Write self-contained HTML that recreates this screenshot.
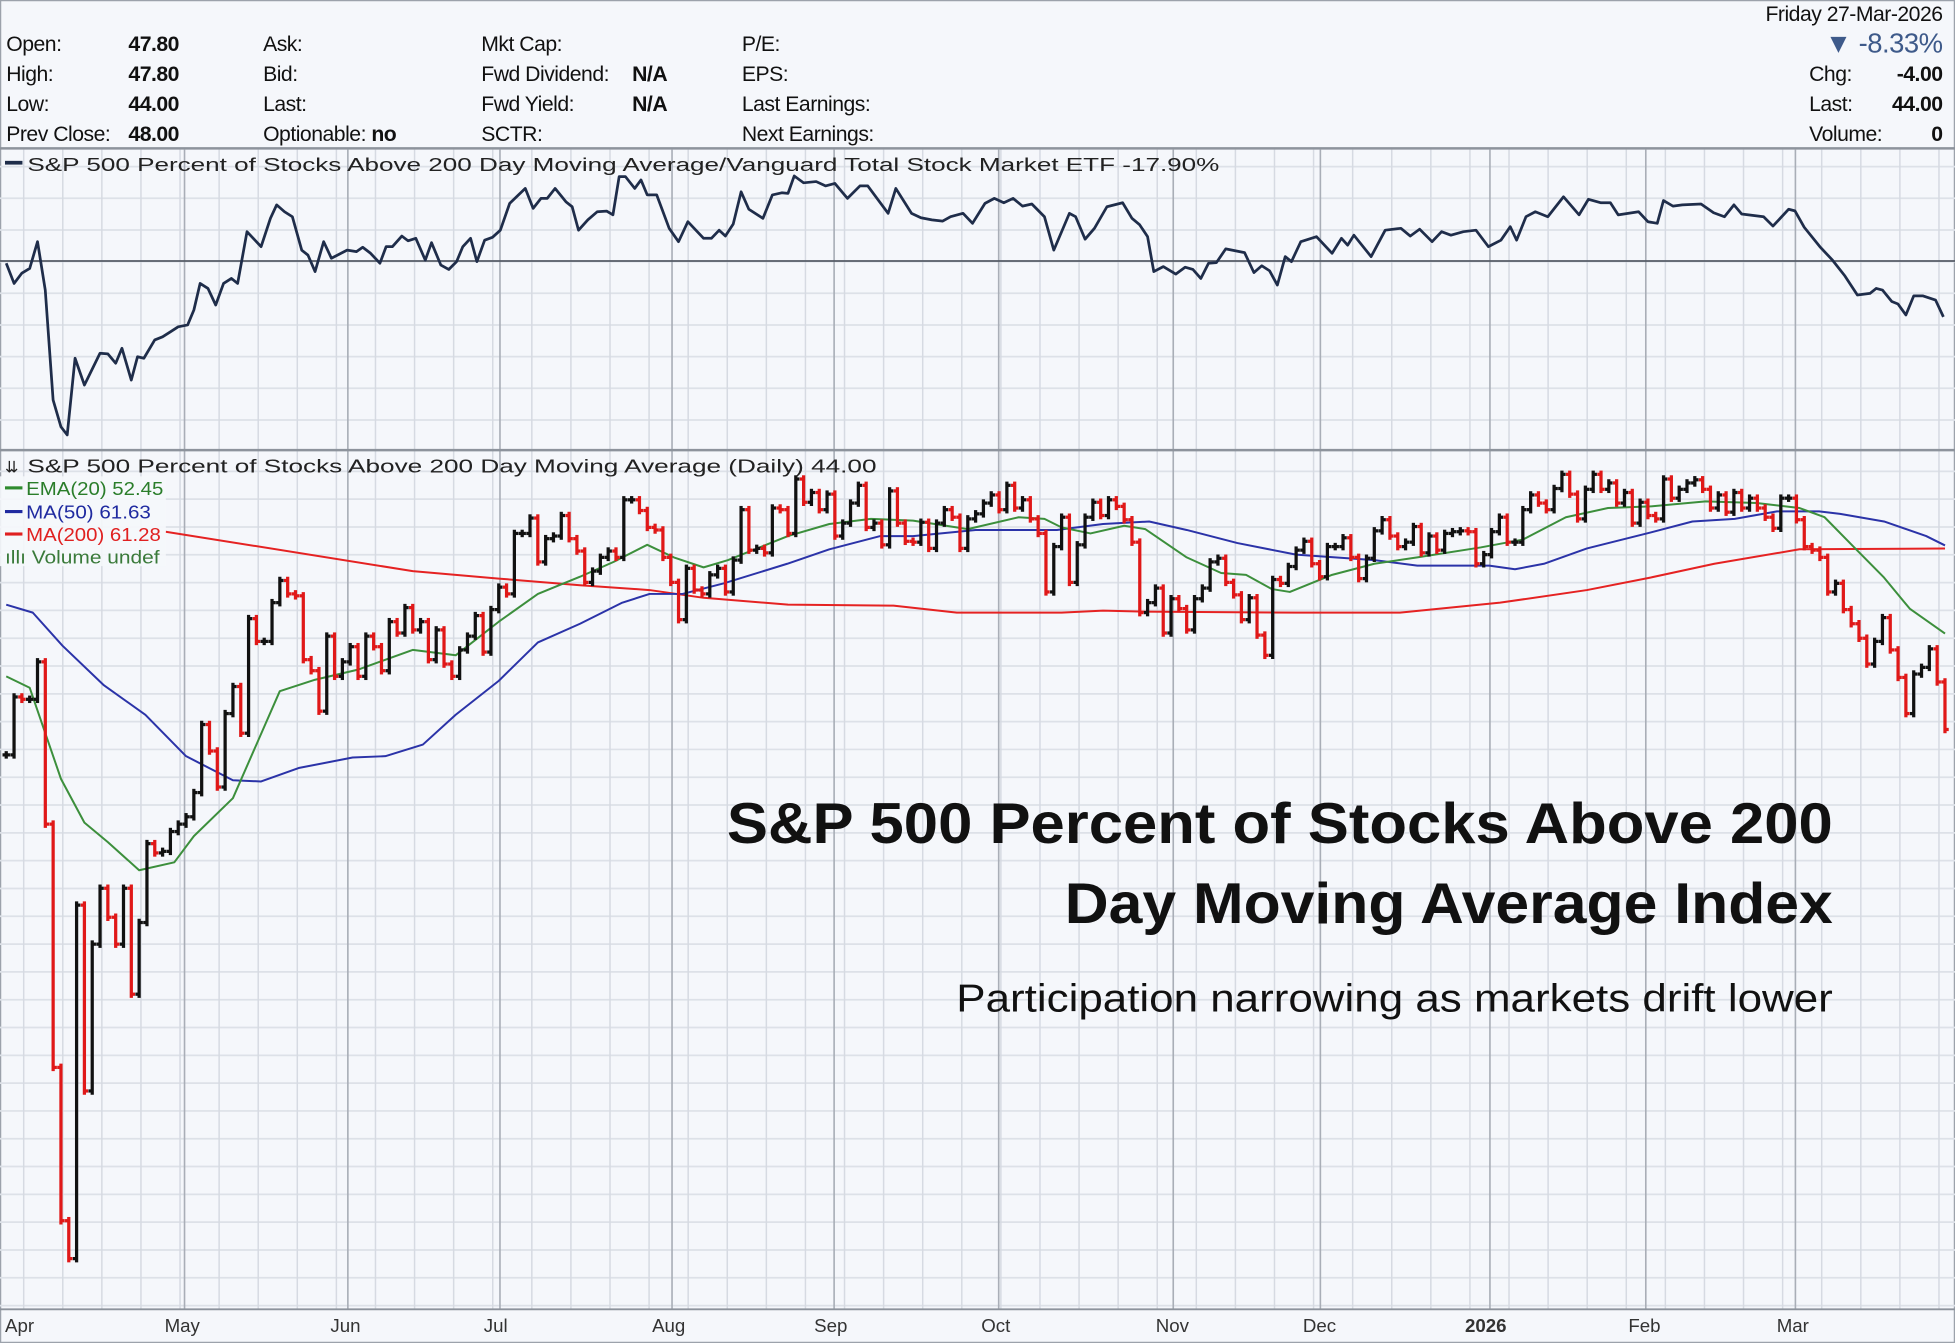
<!DOCTYPE html>
<html><head><meta charset="utf-8">
<style>
html,body{margin:0;padding:0;background:#f5f7fb;}
svg{display:block;}
.hd{font-family:"Liberation Sans",Arial,sans-serif;font-size:17px;fill:#111;letter-spacing:-0.4px;}
.hb{font-weight:bold;}
.mono{font-family:"Liberation Sans",Arial,sans-serif;font-size:15px;fill:#222;}
.ax{font-family:"Liberation Sans",Arial,sans-serif;font-size:15px;fill:#333;}
</style></head>
<body>
<svg id="chart" width="1955" height="1343" viewBox="0 0 1568 1077" preserveAspectRatio="none" xmlns="http://www.w3.org/2000/svg">
<rect x="0" y="0" width="1568" height="1077" fill="#f5f7fb"/>
<rect x="0.5" y="0.5" width="1567" height="1076" fill="none" stroke="#9ca2ab"/>
<g>
<text class="hd" x="5" y="41">Open:</text><text class="hd hb" x="103" y="41">47.80</text>
<text class="hd" x="5" y="65">High:</text><text class="hd hb" x="103" y="65">47.80</text>
<text class="hd" x="5" y="89">Low:</text><text class="hd hb" x="103" y="89">44.00</text>
<text class="hd" x="5" y="113">Prev Close:</text><text class="hd hb" x="103" y="113">48.00</text>
<text class="hd" x="211" y="41">Ask:</text>
<text class="hd" x="211" y="65">Bid:</text>
<text class="hd" x="211" y="89">Last:</text>
<text class="hd" x="211" y="113">Optionable: <tspan class="hb">no</tspan></text>
<text class="hd" x="386" y="41">Mkt Cap:</text>
<text class="hd" x="386" y="65">Fwd Dividend:</text><text class="hd hb" x="507" y="65">N/A</text>
<text class="hd" x="386" y="89">Fwd Yield:</text><text class="hd hb" x="507" y="89">N/A</text>
<text class="hd" x="386" y="113">SCTR:</text>
<text class="hd" x="595" y="41">P/E:</text>
<text class="hd" x="595" y="65">EPS:</text>
<text class="hd" x="595" y="89">Last Earnings:</text>
<text class="hd" x="595" y="113">Next Earnings:</text>
<text class="hd" x="1558" y="17" text-anchor="end">Friday  27-Mar-2026</text>
<text class="hd" x="1558" y="42" text-anchor="end" style="font-size:22px;fill:#3e5a8a">▼ -8.33%</text>
<text class="hd" x="1451" y="65">Chg:</text><text class="hd hb" x="1558" y="65" text-anchor="end">-4.00</text>
<text class="hd" x="1451" y="89">Last:</text><text class="hd hb" x="1558" y="89" text-anchor="end">44.00</text>
<text class="hd" x="1451" y="113">Volume:</text><text class="hd hb" x="1558" y="113" text-anchor="end">0</text>
</g>
<g id="grid"></g>
<line x1="0" y1="119" x2="1568" y2="119" stroke="#8d939c" stroke-width="2"/>
<line x1="0" y1="361" x2="1568" y2="361" stroke="#8d939c" stroke-width="2"/>
<line x1="0" y1="1050" x2="1568" y2="1050" stroke="#8d939c" stroke-width="1.5"/>
<line x1="0" y1="209.3" x2="1568" y2="209.3" stroke="#555b66" stroke-width="1.4"/>
<g id="marks"></g>
<g>
<rect x="4" y="129" width="14" height="3" fill="#1f2d4a"/>
<text class="mono" x="22" y="137" textLength="956" lengthAdjust="spacingAndGlyphs">S&amp;P 500 Percent of Stocks Above 200 Day Moving Average/Vanguard Total Stock Market ETF -17.90%</text>
</g>
<g>
<rect x="0" y="382" width="133" height="72" fill="#f5f7fb" opacity="0.9"/>
<text class="mono" x="4" y="379" style="font-size:13px">⇊</text>
<text class="mono" x="22" y="379" textLength="681" lengthAdjust="spacingAndGlyphs">S&amp;P 500 Percent of Stocks Above 200 Day Moving Average (Daily) 44.00</text>
<rect x="4" y="390" width="14" height="2.5" fill="#2e8b2e"/><text class="mono" x="21" y="397" style="fill:#2a7d2a" textLength="110" lengthAdjust="spacingAndGlyphs">EMA(20) 52.45</text>
<rect x="4" y="409" width="14" height="2.5" fill="#1f2aa0"/><text class="mono" x="21" y="416" style="fill:#1f2aa0" textLength="100" lengthAdjust="spacingAndGlyphs">MA(50) 61.63</text>
<rect x="4" y="427" width="14" height="2.5" fill="#e02020"/><text class="mono" x="21" y="434" style="fill:#e02020" textLength="108" lengthAdjust="spacingAndGlyphs">MA(200) 61.28</text>
<text class="mono" x="4" y="452" style="fill:#3a7a3a" textLength="124" lengthAdjust="spacingAndGlyphs">ıllı Volume undef</text>
</g>
<g>
<text class="ax" x="4" y="1068">Apr</text>
<text class="ax" x="132" y="1068">May</text>
<text class="ax" x="265" y="1068">Jun</text>
<text class="ax" x="388" y="1068">Jul</text>
<text class="ax" x="523" y="1068">Aug</text>
<text class="ax" x="653" y="1068">Sep</text>
<text class="ax" x="787" y="1068">Oct</text>
<text class="ax" x="927" y="1068">Nov</text>
<text class="ax" x="1045" y="1068">Dec</text>
<text class="ax" x="1175" y="1068" style="font-weight:bold">2026</text>
<text class="ax" x="1306" y="1068">Feb</text>
<text class="ax" x="1425" y="1068">Mar</text>
</g>
<g style="font-family:'Liberation Sans',Arial,sans-serif;fill:#111">
<text x="1470" y="676" text-anchor="end" font-weight="bold" font-size="46" textLength="887" lengthAdjust="spacingAndGlyphs">S&amp;P 500 Percent of Stocks Above 200</text>
<text x="1470" y="740" text-anchor="end" font-weight="bold" font-size="46" textLength="616" lengthAdjust="spacingAndGlyphs">Day Moving Average Index</text>
<text x="1470" y="811" text-anchor="end" font-size="31" textLength="703" lengthAdjust="spacingAndGlyphs">Participation narrowing as markets drift lower</text>
</g>
</svg>
<script>
// ---- main series: daily closes (percent of stocks above 200DMA) ----
const closes = [42.0,46.7,46.5,46.5,49.8,37.0,23.7,17.9,16.7,31.9,22.7,29.7,32.9,31.2,29.7,32.9,27.1,30.9,35.7,35.1,
35.2,36.5,37.0,37.5,39.2,44.4,42.3,39.6,45.3,47.6,43.7,53.9,51.7,51.7,55.5,57.8,56.4,56.2,50.0,49.0,
45.5,52.2,48.5,49.8,51.2,48.5,52.2,51.2,49.0,53.6,52.5,55.0,52.8,53.6,50.0,52.8,49.6,48.5,50.9,52.2,
54.2,50.7,54.8,57.1,56.4,63.0,63.0,64.8,59.8,62.4,62.7,65.1,62.4,61.0,57.6,58.8,60.3,61.0,60.3,67.0,
67.0,65.7,63.7,63.4,60.3,57.6,53.8,59.1,56.8,56.4,58.4,59.1,56.6,60.0,65.8,61.1,61.3,60.8,66.0,65.8,
63.0,69.6,66.7,67.9,65.8,67.7,62.7,64.2,66.6,68.8,63.7,64.2,61.7,68.1,64.2,62.1,62.0,64.3,61.3,64.2,
65.8,64.9,61.3,64.7,65.3,66.6,67.6,65.8,68.8,66.0,67.0,64.7,63.0,56.6,61.5,64.9,57.6,61.7,64.9,66.7,
65.1,67.0,66.2,64.6,62.0,54.5,55.5,57.0,52.5,55.9,54.9,52.8,55.9,57.0,59.8,60.2,57.6,56.3,53.8,56.0,
52.3,50.4,57.9,57.5,59.3,61.1,62.1,59.6,58.2,61.5,61.5,62.5,60.3,58.0,60.2,63.3,64.6,62.7,61.5,62.0,
63.8,60.8,62.7,61.1,63.0,63.2,63.3,63.2,59.6,60.6,63.2,64.9,62.0,62.0,65.8,67.6,66.6,65.8,68.4,70.2,
67.7,64.7,68.3,70.2,68.3,69.1,66.6,67.9,64.2,66.7,65.1,64.7,69.6,67.2,68.3,69.1,69.5,68.3,66.0,67.6,
65.5,67.9,66.0,67.2,66.0,64.9,63.6,67.2,67.2,64.6,61.5,61.1,60.3,56.6,57.5,54.8,53.4,52.0,49.6,51.7,
54.0,50.9,48.4,45.3,48.7,49.3,51.0,48.0,44.0];
// ---- moving averages (sampled: trading-day index, value) ----
const emaDay = [0,3,7,10,13,17,21.5,24,29,35,39.5,45,52,57.5,63,68,73.4,77.7,82,85.4,89.2,92.3,100,105.3,110.6,116,123,129.5,132.8,135,138.7,143,145.7,151,155.4,158.6,161.9,164.2,169.6,175,180.5,188.6,194,199.5,204.9,210.3,217.4,223.9,229.4,232.6,236.4,240.2,243.5,248];
const emaVal = [48.5,47.5,40.2,37.1,35.8,34.0,34.5,36.2,38.8,47.2,48.2,49.1,50.9,50.4,53.6,56.4,58.2,59.8,61.7,60.3,59.2,60.0,62.7,64.1,64.7,64.5,63.5,64.9,64.7,63.7,63.0,63.9,63.5,60.3,58.6,58.4,56.9,56.6,58.4,59.6,60.3,61.4,62.3,64.9,66.0,66.2,66.8,66.6,66.0,64.9,61.4,58.1,54.9,52.45];
const ma50Day = [0,3.4,7.2,12.5,17.8,23,29,32.6,37.4,44.3,48.5,53.3,57.5,63,68,73.4,78.8,82.3,86.5,91.8,99.9,105.3,111.8,116,124,134.4,140.3,146.2,151,157.5,165,175,180.5,189.7,193,196.7,202.2,210.3,215.7,221.1,226.5,231.9,234.6,240.2,245.6,248];
const ma50Val = [55.3,54.5,51.3,47.7,45.2,41.9,40.1,40.0,41.0,41.8,41.9,42.8,45.2,48.1,51.6,53.4,55.5,56.4,56.4,57.5,59.6,61.2,62.7,62.7,63.4,63.4,64.1,64.4,63.4,61.9,60.6,60.0,59.4,59.4,59.0,59.6,61.3,63.1,64.4,64.7,65.6,65.6,65.3,64.4,62.7,61.63];
const ma200Day = [20.4,52,63,73.4,82.3,89.2,100,113.5,121.6,135,140.3,145.7,165,178.3,191.1,202.2,210.3,218.5,229.4,248];
const ma200Val = [63.2,58.8,58.0,57.3,56.8,56.0,55.3,55.2,54.5,54.5,54.7,54.6,54.5,54.5,55.5,56.8,58.1,59.6,61.2,61.28];
// ---- relative-strength ratio (% change vs start) ----
const ratioDay = [0,1,2,3,4,5,6,7,7.8,8.8,10,12,13,14,14.8,16,16.8,17.6,19,20,21,22,23.2,24,24.8,25.8,26.8,27.8,28.8,29.6,30.8,31.6,32.6,33.8,34.6,35.6,36.6,37.8,38.6,39.5,40.6,41.6,43.6,44.8,45.6,46.6,47.8,48.6,49.4,50.6,51.4,52.4,53.6,54.4,55.6,56.6,57.6,58.4,59.4,60.2,61.2,62.2,63.2,64.4,66.4,67.4,68.4,69.2,70.2,71.6,72.4,73.2,74.4,75.6,76.8,77.6,78.4,79.2,80.4,81.2,82,83.2,84.8,86,87.2,89.2,90.2,91.2,92,93,94,95,96.8,98,99.2,100,100.8,102,103.6,104.8,106,107.6,109.2,110.2,112.8,113.8,115.8,117,118.4,119.8,120.8,122.4,123.6,
125.2,126.4,127.6,128.8,130,131.2,132.8,134,136,136.8,138,139.2,140.8,142.8,144,145,146,146.8,148,149.6,150.8,151.8,152.8,153.8,154.8,156,158.4,159.6,160.6,161.6,162.6,163.6,164.4,165.6,167.6,169.6,170.8,171.6,172.4,174.6,176.4,178.4,179.6,180.8,182.4,183.6,184.8,186.4,188,189.6,191.2,192.4,193.2,194.4,195.6,197.2,199.2,201.2,202.4,204,205.2,206.2,208.8,210,211.2,212,213.2,214.4,216.8,218.4,219.8,221,222,224.8,226,228,228.8,230,232,233.6,235.2,236.8,238.4,239.2,240,241.2,242,243,244,245.2,246.8,247.8];
const ratioVal = [-0.7,-7.2,-3.9,-2.4,6.2,-9.3,-44.6,-53.2,-55.8,-31.2,-39.8,-29.6,-29.8,-32.8,-28.0,-38.2,-30.7,-31.2,-25.3,-24.3,-22.7,-21.1,-20.5,-15.7,-7.2,-8.8,-14.1,-7.2,-5.6,-7.2,9.4,7.3,4.6,13.7,18.0,15.8,14.2,3.5,1.9,-3.4,6.2,0.9,3.5,3.0,4.4,2.5,-0.7,4.6,4.6,8.0,6.5,7.3,0.3,5.9,-1.3,-2.7,-0.2,4.6,7.3,-0.2,6.7,7.6,9.9,18.5,23.3,16.9,20.1,20.1,23.3,19.0,17.4,9.9,13.2,15.8,16.0,14.8,27.1,27.1,23.3,26.0,21.2,21.2,10.5,6.2,12.6,7.3,7.3,9.9,8.0,11.9,22.2,16.6,13.7,21.2,21.9,21.7,27.3,25.1,25.5,24.1,24.9,20.1,24.1,24.1,15.3,23.3,15.3,13.9,13.2,12.8,14.2,15.3,12.1,
18.5,20.1,18.7,20.1,17.6,18.3,14.2,3.5,15.3,14.2,7.0,10.5,17.4,18.7,13.7,11.6,7.8,-3.4,-1.8,-4.2,-2.0,-2.7,-5.6,-0.7,-0.5,3.9,2.7,-3.7,-1.5,-3.1,-7.7,1.4,-0.2,6.2,7.8,2.5,7.3,5.1,8.3,1.4,9.9,10.5,8.0,10.2,6.2,9.4,8.3,9.4,9.9,4.6,6.7,11.0,6.7,14.2,15.8,14.2,20.6,14.8,19.8,18.7,18.7,14.8,15.8,12.6,12.1,19.4,17.6,18.0,18.3,15.5,14.2,18.0,15.1,14.2,11.2,16.6,16.1,10.8,4.6,0.3,-4.8,-10.9,-10.4,-8.8,-9.3,-13.0,-13.8,-17.3,-11.2,-11.2,-12.5,-17.9];

const NS = 'http://www.w3.org/2000/svg';
const X0 = 5, DX = 6.27;
function xScale(d){ return X0 + d*DX; }
function yMain(v){ return 585 - Math.log(v/44)*438; }
function yRatio(p){ return 209.3 - p*2.5; }
function mk(tag, attrs, parent){
  const e = document.createElementNS(NS, tag);
  for (const k in attrs) e.setAttribute(k, attrs[k]);
  parent.appendChild(e);
  return e;
}
// grid
const grid = document.getElementById('grid');
for (let y = 133.6; y < 360; y += 25.4) {
  const l = mk('line', {x1:0, x2:1568, y1:y, y2:y, stroke:'#dde1e8', 'stroke-width':1.4}, grid);
  
  
}
for (let y = 378; y < 1050; y += 22.3) {
  const l = mk('line', {x1:0, x2:1568, y1:y, y2:y, stroke:'#dde1e8', 'stroke-width':1.4}, grid);
  
  
}
for (let x = 19; x < 1568; x += 31.35) {
  const l = mk('line', {x1:x, x2:x, y1:120, y2:1050, stroke:'#d6dae2', 'stroke-width':1.2}, grid);
  
  
}
[148,279,401,539,669,801,941,1059,1195,1320,1440].forEach(x => {
  const l = mk('line', {x1:x, x2:x, y1:120, y2:1050, stroke:'#a9aeb7', 'stroke-width':1.3}, grid);
  
  
});
const marks = document.getElementById('marks');
// ratio line
let rp = ratioDay.map((d,i) => xScale(d).toFixed(1)+','+yRatio(ratioVal[i]).toFixed(1)).join(' ');
const rl = mk('polyline', {points:rp, fill:'none', stroke:'#1f2d4a', 'stroke-width':2.2, 'stroke-linejoin':'round'}, marks);


// moving averages
function maLine(days, vals, color, name){
  const pts = days.map((d,i) => xScale(d).toFixed(1)+','+yMain(vals[i]).toFixed(1)).join(' ');
  const l = mk('polyline', {points:pts, fill:'none', stroke:color, 'stroke-width':1.6, 'stroke-linejoin':'round'}, marks);
  return l;
}
const m200 = maLine(ma200Day, ma200Val, '#e52222');


const m50 = maLine(ma50Day, ma50Val, '#2b33a8');


const ema = maLine(emaDay, emaVal, '#3c8f3c');


// OHLC bars (open = previous close)
closes.forEach((c, i) => {
  const o = i > 0 ? closes[i-1] : c;
  const x = xScale(i);
  const yo = yMain(o), yc = yMain(c);
  const top = Math.min(yo, yc) - 3, bot = Math.max(yo, yc) + 3;
  const col = c < o ? '#e01818' : '#111111';
  const g = mk('g', {stroke:col, 'stroke-width':2.6}, marks);
  
  
  mk('line', {x1:x, x2:x, y1:top, y2:bot}, g);
  mk('line', {x1:x-3, x2:x, y1:yo, y2:yo}, g);
  mk('line', {x1:x, x2:x+3, y1:yc, y2:yc}, g);
});
</script>
</body></html>
